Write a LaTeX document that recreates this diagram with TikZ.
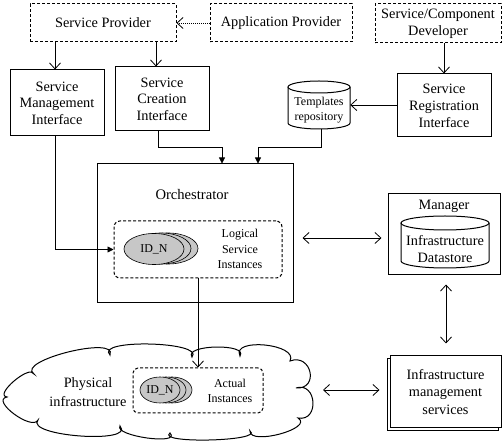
\documentclass[tikz,border=0pt]{standalone}
\usepackage{fontspec}
\setmainfont{Liberation Serif}
\usetikzlibrary{arrows.meta,shapes.geometric,calc}

\tikzset{
  big/.style={font=\fontsize{14.3}{16.5}\selectfont},
  small/.style={font=\fontsize{12}{15}\selectfont},
  box/.style={draw, line width=1pt, fill=white, align=center, inner sep=0pt, big},
  dbox/.style={box, dash pattern=on 3pt off 2pt},
  oarr/.style={draw, line width=0.8pt, -{Straight Barb[length=6pt,width=11pt]}},
  biarr/.style={draw, line width=0.8pt, {Straight Barb[length=6pt,width=11pt]}-{Straight Barb[length=6pt,width=11pt]}},
  farr/.style={draw, line width=0.8pt, -{Triangle[length=6pt,width=6pt]}},
  inst/.style={draw, ellipse, fill=black!22, line width=0.6pt, inner sep=0pt, small},
  label/.style={align=center, inner sep=0pt},
}

\begin{document}
\begin{tikzpicture}[x=1pt,y=-1pt]
\useasboundingbox (0,0) rectangle (504,443);

% actors
\node[dbox, minimum width=146, minimum height=38] (sp) at (103,23) {Service Provider};
\node[dbox, minimum width=142, minimum height=38] (app) at (281,23) {Application Provider};
\node[dbox, minimum width=126, minimum height=39, font=\fontsize{14.3}{17}\selectfont] (dev) at (438,23.5) {Service/Component\\Developer};

% interfaces
\node[box, minimum width=94, minimum height=66] (smi) at (57,103) {Service\\Management\\Interface};
\node[box, minimum width=94, minimum height=64] (sci) at (162,99) {Service\\Creation\\Interface};
\node[box, minimum width=94, minimum height=63, font=\fontsize{14.3}{17}\selectfont] (sri) at (444,105.5) {Service\\Registration\\Interface};

% templates repository (cylinder)
\draw[line width=1pt, fill=white] (288,87) -- (288,123) arc[start angle=180,end angle=0,x radius=31,y radius=6] -- (350,87);
\draw[line width=1pt, fill=white] (319,87) ellipse[x radius=31,y radius=6];
\node[inner sep=0pt, minimum width=62, minimum height=48] (tpl) at (319,105) {};
\node[label, small] (tpllbl) at (319,110) {Templates\\repository};

% orchestrator
\node[box, minimum width=196, minimum height=139] (orch) at (195,233.5) {};
\node[label, font=\fontsize{14.6}{17}\selectfont] (orchlbl) at (192,195) {Orchestrator};
\node[dbox, rounded corners=6pt, minimum width=168, minimum height=57] (lsi) at (198,249.5) {};
\node[inst, minimum width=60, minimum height=31] (l3) at (168,248.5) {};
\node[inst, minimum width=60, minimum height=31] (l2) at (161,248.5) {};
\node[inst, minimum width=60, minimum height=31] (l1) at (154,249) {ID\_N};
\node[label, font=\fontsize{12}{15.5}\selectfont] (lsilbl) at (240,249) {Logical\\Service\\Instances};

% manager
\node[box, minimum width=112, minimum height=81] (mgr) at (444,234.5) {};
\node[label, big] (mgrlbl) at (444,206) {Manager};
\draw[line width=1pt, fill=white] (401,223) -- (401,261) arc[start angle=180,end angle=0,x radius=44,y radius=7] -- (489,223);
\draw[line width=1pt, fill=white] (445,223) ellipse[x radius=44,y radius=7];
\node[label, font=\fontsize{14.3}{17}\selectfont] (ds) at (445,249) {Infrastructure\\Datastore};

% infrastructure management services (stacked)
\draw[line width=1pt, fill=white] (387,359) rectangle (498,431);
\node[box, minimum width=111, minimum height=72, font=\fontsize{14.3}{17.5}\selectfont] (ims) at (445.5,392) {Infrastructure\\management\\services};

% physical infrastructure cloud: cusps k1..k12, puff peaks q1..q12
\coordinate (k1) at (7,397);    \coordinate (q1) at (14,381);
\coordinate (k2) at (34,374);   \coordinate (q2) at (68,352);
\coordinate (k3) at (110,355);  \coordinate (q3) at (150,344);
\coordinate (k4) at (192,357);  \coordinate (q4) at (216,347);
\coordinate (k5) at (240,356);  \coordinate (q5) at (265,345);
\coordinate (k6) at (290,361);  \coordinate (q6) at (310,372);
\coordinate (k7) at (296,388);  \coordinate (q7) at (313,402);
\coordinate (k8) at (298,418);  \coordinate (q8) at (280,434);
\coordinate (k9) at (250,431);  \coordinate (q9) at (210,440);
\coordinate (k10) at (170,433); \coordinate (q10) at (147,438);
\coordinate (k11) at (120,426); \coordinate (q11) at (80,436);
\coordinate (k12) at (38,420);  \coordinate (q12) at (14,414);
\draw[line width=1pt, fill=white] (k1)
  .. controls ($0.515*(k1)+1.33*(q1)-0.845*(k2)$) and ($0.515*(k2)+1.33*(q1)-0.845*(k1)$) .. (k2)
  .. controls ($0.515*(k2)+1.33*(q2)-0.845*(k3)$) and ($0.515*(k3)+1.33*(q2)-0.845*(k2)$) .. (k3)
  .. controls ($0.515*(k3)+1.33*(q3)-0.845*(k4)$) and ($0.515*(k4)+1.33*(q3)-0.845*(k3)$) .. (k4)
  .. controls ($0.515*(k4)+1.33*(q4)-0.845*(k5)$) and ($0.515*(k5)+1.33*(q4)-0.845*(k4)$) .. (k5)
  .. controls ($0.515*(k5)+1.33*(q5)-0.845*(k6)$) and ($0.515*(k6)+1.33*(q5)-0.845*(k5)$) .. (k6)
  .. controls ($0.515*(k6)+1.33*(q6)-0.845*(k7)$) and ($0.515*(k7)+1.33*(q6)-0.845*(k6)$) .. (k7)
  .. controls ($0.515*(k7)+1.33*(q7)-0.845*(k8)$) and ($0.515*(k8)+1.33*(q7)-0.845*(k7)$) .. (k8)
  .. controls ($0.515*(k8)+1.33*(q8)-0.845*(k9)$) and ($0.515*(k9)+1.33*(q8)-0.845*(k8)$) .. (k9)
  .. controls ($0.515*(k9)+1.33*(q9)-0.845*(k10)$) and ($0.515*(k10)+1.33*(q9)-0.845*(k9)$) .. (k10)
  .. controls ($0.515*(k10)+1.33*(q10)-0.845*(k11)$) and ($0.515*(k11)+1.33*(q10)-0.845*(k10)$) .. (k11)
  .. controls ($0.515*(k11)+1.33*(q11)-0.845*(k12)$) and ($0.515*(k12)+1.33*(q11)-0.845*(k11)$) .. (k12)
  .. controls ($0.515*(k12)+1.33*(q12)-0.845*(k1)$) and ($0.515*(k1)+1.33*(q12)-0.845*(k12)$) .. (k1)
  -- cycle;
\coordinate (cloudE) at (318,390);
\node[label, font=\fontsize{14.3}{19}\selectfont] (cloudlbl) at (88,392.5) {Physical\\infrastructure};
\node[dbox, rounded corners=5pt, minimum width=130, minimum height=45] (ais) at (198,390.5) {};
\node[inst, minimum width=40, minimum height=26] (a3) at (172,390) {};
\node[inst, minimum width=40, minimum height=26] (a2) at (166,390) {};
\node[inst, minimum width=40, minimum height=26] (a1) at (160,390) {ID\_N};
\node[label, small] (aislbl) at (230,391) {Actual\\Instances};

% connectors
\coordinate (smiin) at ($(smi.north)+(-2,0)$);
\coordinate (sciin) at ($(sci.north)+(-6,0)$);
\draw[oarr, dash pattern=on 1pt off 1pt] (app.west) -- (sp.east);
\draw[oarr] (smiin |- sp.south) -- (smiin);
\draw[oarr] (sciin |- sp.south) -- (sciin);
\draw[oarr] (sri.north |- dev.south) -- (sri.north);
\draw[oarr] (sri.west |- tpl.east) -- (tpl.east);
\draw[farr] ($(sci.south)+(-4,0)$) -- ++(0,16) -| ($(orch.north)+(27,0)$);
\draw[farr] ($(tpl.south)+(2,0)$) -- ++(0,18) -| ($(orch.north)+(63,0)$);
\draw[farr] (smiin |- smi.south) |- (lsi.west);
\draw[biarr] ($(orch.east)+(9,4.5)$) -- ($(mgr.west)+(-6,3.5)$);
\draw[biarr] ($(mgr.south)+(2,9)$) -- ($(ims.north)+(0.5,-12)$);
\draw[biarr] ($(cloudE)+(5,0)$) -- ($(ims.west)+(-10,-2)$);
\draw[oarr] (lsi.south) -- (ais.north);
\end{tikzpicture}
\end{document}
